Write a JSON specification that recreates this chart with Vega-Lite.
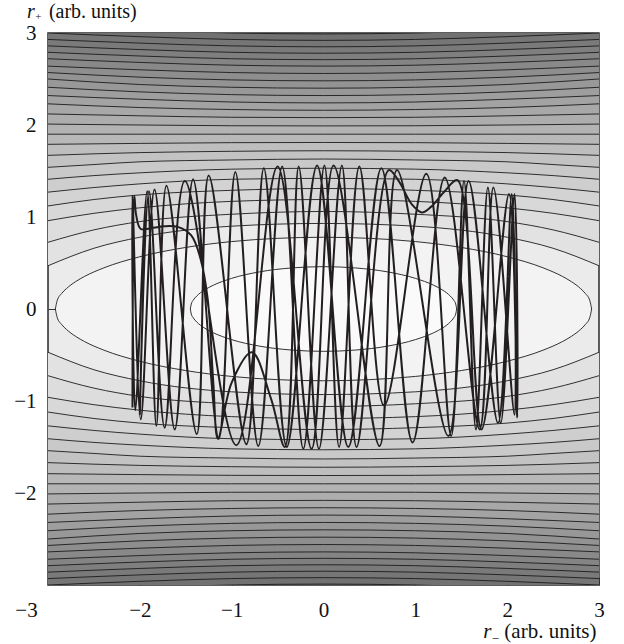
{
"$schema": "https://vega.github.io/schema/vega-lite/v6.json",
"width": 551, "height": 552,
"autosize": "none",
"padding": {"left": 48, "top": 33, "right": 25, "bottom": 59},
"config": {
  "view": {"fill": "#ebebeb", "stroke": "#2a2a2a", "strokeWidth": 1.5},
  "axis": {"labelFont": "Liberation Serif, Times New Roman, DejaVu Serif, serif", "labelFontSize": 21, "labelColor": "#111111", "grid": false, "domain": false, "tickColor": "#333333", "tickSize": -8, "tickWidth": 1, "labelOverlap": false, "labelFlush": false, "zindex": 1, "format": "d"},
  "text": {"font": "Liberation Serif, Times New Roman, DejaVu Serif, serif", "color": "#111111", "align": "left", "baseline": "alphabetic"}
},
"datasets": {
"c": [
{"k":3,"x":-3,"y":0.47},{"k":3,"x":-2.5,"y":0.66},{"k":3,"x":-2,"y":0.78},{"k":3,"x":-1,"y":0.9},{"k":3,"x":0,"y":0.93},{"k":3,"x":1,"y":0.9},{"k":3,"x":2,"y":0.78},{"k":3,"x":2.5,"y":0.66},{"k":3,"x":3,"y":0.47},
{"k":4,"x":-3,"y":0.725},{"k":4,"x":-2.5,"y":0.86},{"k":4,"x":-2,"y":0.95},{"k":4,"x":-1,"y":1.03},{"k":4,"x":0,"y":1.06},{"k":4,"x":1,"y":1.03},{"k":4,"x":2,"y":0.95},{"k":4,"x":2.5,"y":0.86},{"k":4,"x":3,"y":0.725},
{"k":5,"x":-3,"y":0.96},{"k":5,"x":-2.5,"y":1.04},{"k":5,"x":-2,"y":1.1},{"k":5,"x":-1,"y":1.17},{"k":5,"x":0,"y":1.19},{"k":5,"x":1,"y":1.17},{"k":5,"x":2,"y":1.1},{"k":5,"x":2.5,"y":1.04},{"k":5,"x":3,"y":0.96},
{"k":6,"x":-3,"y":1.12},{"k":6,"x":-2.5,"y":1.19},{"k":6,"x":-2,"y":1.24},{"k":6,"x":-1,"y":1.29},{"k":6,"x":0,"y":1.31},{"k":6,"x":1,"y":1.29},{"k":6,"x":2,"y":1.24},{"k":6,"x":2.5,"y":1.19},{"k":6,"x":3,"y":1.12},
{"k":7,"x":-3,"y":1.27},{"k":7,"x":-2.5,"y":1.32},{"k":7,"x":-2,"y":1.36},{"k":7,"x":-1,"y":1.41},{"k":7,"x":0,"y":1.42},{"k":7,"x":1,"y":1.41},{"k":7,"x":2,"y":1.36},{"k":7,"x":2.5,"y":1.32},{"k":7,"x":3,"y":1.27},
{"k":8,"x":-3,"y":1.41},{"k":8,"x":-2.5,"y":1.45},{"k":8,"x":-2,"y":1.48},{"k":8,"x":-1,"y":1.52},{"k":8,"x":0,"y":1.53},{"k":8,"x":1,"y":1.52},{"k":8,"x":2,"y":1.48},{"k":8,"x":2.5,"y":1.45},{"k":8,"x":3,"y":1.41},
{"k":9,"x":-3,"y":1.54},{"k":9,"x":-2.5,"y":1.57},{"k":9,"x":-2,"y":1.6},{"k":9,"x":-1,"y":1.62},{"k":9,"x":0,"y":1.63},{"k":9,"x":1,"y":1.62},{"k":9,"x":2,"y":1.6},{"k":9,"x":2.5,"y":1.57},{"k":9,"x":3,"y":1.54},
{"k":10,"x":-3,"y":1.67},{"k":10,"x":-2,"y":1.7},{"k":10,"x":-1,"y":1.714},{"k":10,"x":0,"y":1.72},{"k":10,"x":1,"y":1.714},{"k":10,"x":2,"y":1.7},{"k":10,"x":3,"y":1.67},
{"k":11,"x":-3,"y":1.79},{"k":11,"x":-2,"y":1.8},{"k":11,"x":-1,"y":1.808},{"k":11,"x":0,"y":1.81},{"k":11,"x":1,"y":1.808},{"k":11,"x":2,"y":1.8},{"k":11,"x":3,"y":1.79},
{"k":12,"x":-3,"y":1.9},{"k":12,"x":-2,"y":1.9},{"k":12,"x":-1,"y":1.9},{"k":12,"x":0,"y":1.9},{"k":12,"x":1,"y":1.9},{"k":12,"x":2,"y":1.9},{"k":12,"x":3,"y":1.9},
{"k":13,"x":-3,"y":2.01},{"k":13,"x":-2,"y":2.0},{"k":13,"x":-1,"y":1.992},{"k":13,"x":0,"y":1.99},{"k":13,"x":1,"y":1.992},{"k":13,"x":2,"y":2.0},{"k":13,"x":3,"y":2.01},
{"k":14,"x":-3,"y":2.12},{"k":14,"x":-2,"y":2.1},{"k":14,"x":-1,"y":2.084},{"k":14,"x":0,"y":2.08},{"k":14,"x":1,"y":2.084},{"k":14,"x":2,"y":2.1},{"k":14,"x":3,"y":2.12},
{"k":15,"x":-3,"y":2.23},{"k":15,"x":-2,"y":2.19},{"k":15,"x":-1,"y":2.168},{"k":15,"x":0,"y":2.16},{"k":15,"x":1,"y":2.168},{"k":15,"x":2,"y":2.19},{"k":15,"x":3,"y":2.23},
{"k":16,"x":-3,"y":2.32},{"k":16,"x":-2,"y":2.28},{"k":16,"x":-1,"y":2.25},{"k":16,"x":0,"y":2.24},{"k":16,"x":1,"y":2.25},{"k":16,"x":2,"y":2.28},{"k":16,"x":3,"y":2.32},
{"k":17,"x":-3,"y":2.41},{"k":17,"x":-2,"y":2.36},{"k":17,"x":-1,"y":2.33},{"k":17,"x":0,"y":2.32},{"k":17,"x":1,"y":2.33},{"k":17,"x":2,"y":2.36},{"k":17,"x":3,"y":2.41},
{"k":18,"x":-3,"y":2.5},{"k":18,"x":-2,"y":2.44},{"k":18,"x":-1,"y":2.41},{"k":18,"x":0,"y":2.4},{"k":18,"x":1,"y":2.41},{"k":18,"x":2,"y":2.44},{"k":18,"x":3,"y":2.5},
{"k":19,"x":-3,"y":2.57},{"k":19,"x":-2,"y":2.52},{"k":19,"x":-1,"y":2.49},{"k":19,"x":0,"y":2.48},{"k":19,"x":1,"y":2.49},{"k":19,"x":2,"y":2.52},{"k":19,"x":3,"y":2.57},
{"k":20,"x":-3,"y":2.64},{"k":20,"x":-2,"y":2.6},{"k":20,"x":-1,"y":2.57},{"k":20,"x":0,"y":2.56},{"k":20,"x":1,"y":2.57},{"k":20,"x":2,"y":2.6},{"k":20,"x":3,"y":2.64},
{"k":21,"x":-3,"y":2.72},{"k":21,"x":-2,"y":2.68},{"k":21,"x":-1,"y":2.65},{"k":21,"x":0,"y":2.64},{"k":21,"x":1,"y":2.65},{"k":21,"x":2,"y":2.68},{"k":21,"x":3,"y":2.72},
{"k":22,"x":-3,"y":2.79},{"k":22,"x":-2,"y":2.75},{"k":22,"x":-1,"y":2.72},{"k":22,"x":0,"y":2.71},{"k":22,"x":1,"y":2.72},{"k":22,"x":2,"y":2.75},{"k":22,"x":3,"y":2.79},
{"k":23,"x":-3,"y":2.86},{"k":23,"x":-2,"y":2.82},{"k":23,"x":-1,"y":2.79},{"k":23,"x":0,"y":2.78},{"k":23,"x":1,"y":2.79},{"k":23,"x":2,"y":2.82},{"k":23,"x":3,"y":2.86},
{"k":24,"x":-3,"y":2.93},{"k":24,"x":-2,"y":2.89},{"k":24,"x":-1,"y":2.86},{"k":24,"x":0,"y":2.85},{"k":24,"x":1,"y":2.86},{"k":24,"x":2,"y":2.89},{"k":24,"x":3,"y":2.93},
{"k":25,"x":-3,"y":3.0},{"k":25,"x":-2,"y":2.96},{"k":25,"x":-1,"y":2.93},{"k":25,"x":0,"y":2.92},{"k":25,"x":1,"y":2.93},{"k":25,"x":2,"y":2.96},{"k":25,"x":3,"y":3.0},
{"k":26,"x":-3,"y":3.07},{"k":26,"x":-2,"y":3.03},{"k":26,"x":-1,"y":3.0},{"k":26,"x":0,"y":2.99},{"k":26,"x":1,"y":3.0},{"k":26,"x":2,"y":3.03},{"k":26,"x":3,"y":3.07},
{"k":3,"x":-3,"y":-0.47},{"k":3,"x":-2.5,"y":-0.66},{"k":3,"x":-2,"y":-0.78},{"k":3,"x":-1,"y":-0.9},{"k":3,"x":0,"y":-0.93},{"k":3,"x":1,"y":-0.9},{"k":3,"x":2,"y":-0.78},{"k":3,"x":2.5,"y":-0.66},{"k":3,"x":3,"y":-0.47},
{"k":4,"x":-3,"y":-0.725},{"k":4,"x":-2.5,"y":-0.86},{"k":4,"x":-2,"y":-0.95},{"k":4,"x":-1,"y":-1.03},{"k":4,"x":0,"y":-1.06},{"k":4,"x":1,"y":-1.03},{"k":4,"x":2,"y":-0.95},{"k":4,"x":2.5,"y":-0.86},{"k":4,"x":3,"y":-0.725},
{"k":5,"x":-3,"y":-0.96},{"k":5,"x":-2.5,"y":-1.04},{"k":5,"x":-2,"y":-1.1},{"k":5,"x":-1,"y":-1.17},{"k":5,"x":0,"y":-1.19},{"k":5,"x":1,"y":-1.17},{"k":5,"x":2,"y":-1.1},{"k":5,"x":2.5,"y":-1.04},{"k":5,"x":3,"y":-0.96},
{"k":6,"x":-3,"y":-1.12},{"k":6,"x":-2.5,"y":-1.19},{"k":6,"x":-2,"y":-1.24},{"k":6,"x":-1,"y":-1.29},{"k":6,"x":0,"y":-1.31},{"k":6,"x":1,"y":-1.29},{"k":6,"x":2,"y":-1.24},{"k":6,"x":2.5,"y":-1.19},{"k":6,"x":3,"y":-1.12},
{"k":7,"x":-3,"y":-1.27},{"k":7,"x":-2.5,"y":-1.32},{"k":7,"x":-2,"y":-1.36},{"k":7,"x":-1,"y":-1.41},{"k":7,"x":0,"y":-1.42},{"k":7,"x":1,"y":-1.41},{"k":7,"x":2,"y":-1.36},{"k":7,"x":2.5,"y":-1.32},{"k":7,"x":3,"y":-1.27},
{"k":8,"x":-3,"y":-1.41},{"k":8,"x":-2.5,"y":-1.45},{"k":8,"x":-2,"y":-1.48},{"k":8,"x":-1,"y":-1.52},{"k":8,"x":0,"y":-1.53},{"k":8,"x":1,"y":-1.52},{"k":8,"x":2,"y":-1.48},{"k":8,"x":2.5,"y":-1.45},{"k":8,"x":3,"y":-1.41},
{"k":9,"x":-3,"y":-1.54},{"k":9,"x":-2.5,"y":-1.57},{"k":9,"x":-2,"y":-1.6},{"k":9,"x":-1,"y":-1.62},{"k":9,"x":0,"y":-1.63},{"k":9,"x":1,"y":-1.62},{"k":9,"x":2,"y":-1.6},{"k":9,"x":2.5,"y":-1.57},{"k":9,"x":3,"y":-1.54},
{"k":10,"x":-3,"y":-1.67},{"k":10,"x":-2,"y":-1.7},{"k":10,"x":-1,"y":-1.714},{"k":10,"x":0,"y":-1.72},{"k":10,"x":1,"y":-1.714},{"k":10,"x":2,"y":-1.7},{"k":10,"x":3,"y":-1.67},
{"k":11,"x":-3,"y":-1.79},{"k":11,"x":-2,"y":-1.8},{"k":11,"x":-1,"y":-1.808},{"k":11,"x":0,"y":-1.81},{"k":11,"x":1,"y":-1.808},{"k":11,"x":2,"y":-1.8},{"k":11,"x":3,"y":-1.79},
{"k":12,"x":-3,"y":-1.9},{"k":12,"x":-2,"y":-1.9},{"k":12,"x":-1,"y":-1.9},{"k":12,"x":0,"y":-1.9},{"k":12,"x":1,"y":-1.9},{"k":12,"x":2,"y":-1.9},{"k":12,"x":3,"y":-1.9},
{"k":13,"x":-3,"y":-2.01},{"k":13,"x":-2,"y":-2.0},{"k":13,"x":-1,"y":-1.992},{"k":13,"x":0,"y":-1.99},{"k":13,"x":1,"y":-1.992},{"k":13,"x":2,"y":-2.0},{"k":13,"x":3,"y":-2.01},
{"k":14,"x":-3,"y":-2.12},{"k":14,"x":-2,"y":-2.1},{"k":14,"x":-1,"y":-2.084},{"k":14,"x":0,"y":-2.08},{"k":14,"x":1,"y":-2.084},{"k":14,"x":2,"y":-2.1},{"k":14,"x":3,"y":-2.12},
{"k":15,"x":-3,"y":-2.23},{"k":15,"x":-2,"y":-2.19},{"k":15,"x":-1,"y":-2.168},{"k":15,"x":0,"y":-2.16},{"k":15,"x":1,"y":-2.168},{"k":15,"x":2,"y":-2.19},{"k":15,"x":3,"y":-2.23},
{"k":16,"x":-3,"y":-2.32},{"k":16,"x":-2,"y":-2.28},{"k":16,"x":-1,"y":-2.25},{"k":16,"x":0,"y":-2.24},{"k":16,"x":1,"y":-2.25},{"k":16,"x":2,"y":-2.28},{"k":16,"x":3,"y":-2.32},
{"k":17,"x":-3,"y":-2.41},{"k":17,"x":-2,"y":-2.36},{"k":17,"x":-1,"y":-2.33},{"k":17,"x":0,"y":-2.32},{"k":17,"x":1,"y":-2.33},{"k":17,"x":2,"y":-2.36},{"k":17,"x":3,"y":-2.41},
{"k":18,"x":-3,"y":-2.5},{"k":18,"x":-2,"y":-2.44},{"k":18,"x":-1,"y":-2.41},{"k":18,"x":0,"y":-2.4},{"k":18,"x":1,"y":-2.41},{"k":18,"x":2,"y":-2.44},{"k":18,"x":3,"y":-2.5},
{"k":19,"x":-3,"y":-2.57},{"k":19,"x":-2,"y":-2.52},{"k":19,"x":-1,"y":-2.49},{"k":19,"x":0,"y":-2.48},{"k":19,"x":1,"y":-2.49},{"k":19,"x":2,"y":-2.52},{"k":19,"x":3,"y":-2.57},
{"k":20,"x":-3,"y":-2.64},{"k":20,"x":-2,"y":-2.6},{"k":20,"x":-1,"y":-2.57},{"k":20,"x":0,"y":-2.56},{"k":20,"x":1,"y":-2.57},{"k":20,"x":2,"y":-2.6},{"k":20,"x":3,"y":-2.64},
{"k":21,"x":-3,"y":-2.72},{"k":21,"x":-2,"y":-2.68},{"k":21,"x":-1,"y":-2.65},{"k":21,"x":0,"y":-2.64},{"k":21,"x":1,"y":-2.65},{"k":21,"x":2,"y":-2.68},{"k":21,"x":3,"y":-2.72},
{"k":22,"x":-3,"y":-2.79},{"k":22,"x":-2,"y":-2.75},{"k":22,"x":-1,"y":-2.72},{"k":22,"x":0,"y":-2.71},{"k":22,"x":1,"y":-2.72},{"k":22,"x":2,"y":-2.75},{"k":22,"x":3,"y":-2.79},
{"k":23,"x":-3,"y":-2.86},{"k":23,"x":-2,"y":-2.82},{"k":23,"x":-1,"y":-2.79},{"k":23,"x":0,"y":-2.78},{"k":23,"x":1,"y":-2.79},{"k":23,"x":2,"y":-2.82},{"k":23,"x":3,"y":-2.86},
{"k":24,"x":-3,"y":-2.93},{"k":24,"x":-2,"y":-2.89},{"k":24,"x":-1,"y":-2.86},{"k":24,"x":0,"y":-2.85},{"k":24,"x":1,"y":-2.86},{"k":24,"x":2,"y":-2.89},{"k":24,"x":3,"y":-2.93},
{"k":25,"x":-3,"y":-3.0},{"k":25,"x":-2,"y":-2.96},{"k":25,"x":-1,"y":-2.93},{"k":25,"x":0,"y":-2.92},{"k":25,"x":1,"y":-2.93},{"k":25,"x":2,"y":-2.96},{"k":25,"x":3,"y":-3.0},
{"k":26,"x":-3,"y":-3.07},{"k":26,"x":-2,"y":-3.03},{"k":26,"x":-1,"y":-3.0},{"k":26,"x":0,"y":-2.99},{"k":26,"x":1,"y":-3.0},{"k":26,"x":2,"y":-3.03},{"k":26,"x":3,"y":-3.07}
],
"e": [
{"e":2,"x":-2.92,"yt":0,"yb":0},{"e":2,"x":-2.9,"yt":0.091,"yb":-0.091},{"e":2,"x":-2.85,"yt":0.17,"yb":-0.17},{"e":2,"x":-2.8,"yt":0.221,"yb":-0.221},{"e":2,"x":-2.7,"yt":0.297,"yb":-0.297},{"e":2,"x":-2.6,"yt":0.355,"yb":-0.355},{"e":2,"x":-2.4,"yt":0.444,"yb":-0.444},{"e":2,"x":-2,"yt":0.568,"yb":-0.568},{"e":2,"x":-1.5,"yt":0.669,"yb":-0.669},{"e":2,"x":-1,"yt":0.733,"yb":-0.733},{"e":2,"x":-0.5,"yt":0.768,"yb":-0.768},{"e":2,"x":0,"yt":0.78,"yb":-0.78},{"e":2,"x":0.5,"yt":0.768,"yb":-0.768},{"e":2,"x":1,"yt":0.733,"yb":-0.733},{"e":2,"x":1.5,"yt":0.669,"yb":-0.669},{"e":2,"x":2,"yt":0.568,"yb":-0.568},{"e":2,"x":2.4,"yt":0.444,"yb":-0.444},{"e":2,"x":2.6,"yt":0.355,"yb":-0.355},{"e":2,"x":2.7,"yt":0.297,"yb":-0.297},{"e":2,"x":2.8,"yt":0.221,"yb":-0.221},{"e":2,"x":2.85,"yt":0.17,"yb":-0.17},{"e":2,"x":2.9,"yt":0.091,"yb":-0.091},{"e":2,"x":2.92,"yt":0,"yb":0},
{"e":1,"x":-1.45,"yt":0,"yb":0},{"e":1,"x":-1.44,"yt":0.054,"yb":-0.054},{"e":1,"x":-1.42,"yt":0.093,"yb":-0.093},{"e":1,"x":-1.38,"yt":0.141,"yb":-0.141},{"e":1,"x":-1.3,"yt":0.204,"yb":-0.204},{"e":1,"x":-1.2,"yt":0.258,"yb":-0.258},{"e":1,"x":-1,"yt":0.333,"yb":-0.333},{"e":1,"x":-0.7,"yt":0.403,"yb":-0.403},{"e":1,"x":-0.35,"yt":0.446,"yb":-0.446},{"e":1,"x":0,"yt":0.46,"yb":-0.46},{"e":1,"x":0.35,"yt":0.446,"yb":-0.446},{"e":1,"x":0.7,"yt":0.403,"yb":-0.403},{"e":1,"x":1,"yt":0.333,"yb":-0.333},{"e":1,"x":1.2,"yt":0.258,"yb":-0.258},{"e":1,"x":1.3,"yt":0.204,"yb":-0.204},{"e":1,"x":1.38,"yt":0.141,"yb":-0.141},{"e":1,"x":1.42,"yt":0.093,"yb":-0.093},{"e":1,"x":1.44,"yt":0.054,"yb":-0.054},{"e":1,"x":1.45,"yt":0,"yb":0}
],
"t": [
{"t":1,"x":-2.08,"y":-1.07},{"t":2,"x":-2.06,"y":1.23},{"t":3,"x":-2.04,"y":1.02},{"t":4,"x":-1.99,"y":0.87},{"t":5,"x":-1.87,"y":0.88},{"t":6,"x":-1.73,"y":0.9},{"t":7,"x":-1.58,"y":0.89},{"t":8,"x":-1.44,"y":0.8},{"t":9,"x":-1.34,"y":0.55},{"t":10,"x":-1.26,"y":0.1},{"t":11,"x":-1.2,"y":-0.8},{"t":12,"x":-1.15,"y":-1.41},{"t":13,"x":-1.0,"y":-0.8},{"t":14,"x":-0.78,"y":-0.47},{"t":15,"x":-0.57,"y":-0.98},{"t":16,"x":-0.42,"y":-1.5},
{"t":17,"x":-0.27,"y":1.55},{"t":18,"x":-0.05,"y":-1.52},{"t":19,"x":0.2,"y":1.56},{"t":20,"x":0.36,"y":-1.5},{"t":21,"x":0.71,"y":1.51},{"t":22,"x":0.82,"y":1.39},{"t":23,"x":0.96,"y":1.14},{"t":24,"x":1.07,"y":1.05},{"t":25,"x":1.17,"y":1.11},{"t":26,"x":1.32,"y":1.28},{"t":27,"x":1.46,"y":1.4},{"t":28,"x":1.72,"y":-1.31},{"t":29,"x":2.02,"y":1.25},{"t":30,"x":2.11,"y":-1.18},
{"t":31,"x":2.08,"y":1.25},{"t":32,"x":1.93,"y":-1.24},{"t":33,"x":1.79,"y":1.32},{"t":34,"x":1.66,"y":-1.31},{"t":35,"x":1.53,"y":1.39},{"t":36,"x":1.39,"y":-1.38},{"t":37,"x":1.12,"y":1.47},{"t":38,"x":0.66,"y":-1.05},{"t":39,"x":0.39,"y":1.55},{"t":40,"x":0.17,"y":-1.5},{"t":41,"x":0.01,"y":1.56},{"t":42,"x":-0.22,"y":-1.52},{"t":43,"x":-0.45,"y":1.55},{"t":44,"x":-0.71,"y":-1.49},{"t":45,"x":-0.96,"y":1.49},{"t":46,"x":-1.14,"y":-1.41},{"t":47,"x":-1.42,"y":1.41},{"t":48,"x":-1.62,"y":-1.31},{"t":49,"x":-1.84,"y":1.3},{"t":50,"x":-1.99,"y":-1.2},{"t":51,"x":-2.08,"y":1.23},{"t":52,"x":-2.05,"y":-1.1},
{"t":53,"x":-1.92,"y":1.28},{"t":54,"x":-1.82,"y":-1.27},{"t":55,"x":-1.71,"y":1.34},{"t":56,"x":-1.38,"y":-1.36},{"t":57,"x":-1.25,"y":1.45},{"t":58,"x":-0.84,"y":-1.47},{"t":59,"x":-0.65,"y":1.53},{"t":60,"x":-0.4,"y":-1.5},{"t":61,"x":-0.07,"y":1.56},{"t":62,"x":0.27,"y":-1.5},{"t":63,"x":0.63,"y":1.53},{"t":64,"x":0.97,"y":-1.45},{"t":65,"x":1.32,"y":1.43},{"t":66,"x":1.7,"y":-1.31},{"t":67,"x":1.85,"y":1.32},{"t":68,"x":2.08,"y":-1.15},
{"t":69,"x":2.05,"y":1.25},{"t":70,"x":1.9,"y":-1.24},{"t":71,"x":1.58,"y":1.39},{"t":72,"x":1.36,"y":-1.38},{"t":73,"x":0.8,"y":1.51},{"t":74,"x":0.61,"y":-1.49},{"t":75,"x":0.11,"y":1.56},{"t":76,"x":-0.13,"y":-1.52},{"t":77,"x":-0.5,"y":1.55},{"t":78,"x":-0.95,"y":-1.48},{"t":79,"x":-1.51,"y":1.39},{"t":80,"x":-1.73,"y":-1.29},{"t":81,"x":-1.9,"y":1.28},{"t":82,"x":-2.0,"y":-1.15}
]
},
"layer": [
{"data": {"name": "c"}, "transform": [{"filter": "datum.y > 0"}],
 "mark": {"type": "area", "interpolate": "monotone", "clip": true},
 "encoding": {
   "x": {"field": "x", "type": "quantitative", "scale": {"domain": [-3, 3], "nice": false, "zero": false},
         "axis": {"values": [-3, -2, -1, 0, 1, 2, 3], "title": null, "labelPadding": 22, "labelOffset": {"condition": {"test": "datum.value === -3", "value": -22}, "value": 0}}},
   "y": {"field": "y", "type": "quantitative", "stack": null, "scale": {"domain": [-3, 3], "nice": false, "zero": false},
         "axis": {"values": [-2, -1, 0, 1, 2, 3], "title": null, "labelPadding": 20}},
   "y2": {"datum": 3},
   "fill": {"field": "k", "type": "quantitative", "scale": {"domain": [3, 8, 13, 26], "range": ["#e2e2e2", "#c9c9c9", "#adadad", "#6c6c6c"]}, "legend": null}
 }},
{"data": {"name": "c"}, "transform": [{"filter": "datum.y < 0"}],
 "mark": {"type": "area", "interpolate": "monotone", "clip": true},
 "encoding": {
   "x": {"field": "x", "type": "quantitative"},
   "y": {"field": "y", "type": "quantitative", "stack": null},
   "y2": {"datum": -3},
   "fill": {"field": "k", "type": "quantitative", "legend": null}
 }},
{"data": {"name": "e"}, "transform": [{"filter": "datum.e == 2"}],
 "mark": {"type": "area", "interpolate": "monotone", "fill": "#f3f3f3", "clip": true},
 "encoding": {"x": {"field": "x", "type": "quantitative"}, "y": {"field": "yt", "type": "quantitative", "stack": null}, "y2": {"field": "yb"}}},
{"data": {"name": "e"}, "transform": [{"filter": "datum.e == 1"}],
 "mark": {"type": "area", "interpolate": "monotone", "fill": "#fafafa", "clip": true},
 "encoding": {"x": {"field": "x", "type": "quantitative"}, "y": {"field": "yt", "type": "quantitative", "stack": null}, "y2": {"field": "yb"}}},
{"data": {"name": "c"}, "transform": [{"filter": "datum.y > 0"}],
 "mark": {"type": "line", "interpolate": "monotone", "stroke": "#1c1c1c", "strokeWidth": 0.9, "clip": true},
 "encoding": {"x": {"field": "x", "type": "quantitative"}, "y": {"field": "y", "type": "quantitative"}, "detail": {"field": "k"}}},
{"data": {"name": "c"}, "transform": [{"filter": "datum.y < 0"}],
 "mark": {"type": "line", "interpolate": "monotone", "stroke": "#1c1c1c", "strokeWidth": 0.9, "clip": true},
 "encoding": {"x": {"field": "x", "type": "quantitative"}, "y": {"field": "y", "type": "quantitative"}, "detail": {"field": "k"}}},
{"data": {"name": "e"},
 "mark": {"type": "line", "interpolate": "monotone", "stroke": "#1c1c1c", "strokeWidth": 0.9, "clip": true},
 "encoding": {"x": {"field": "x", "type": "quantitative"}, "y": {"field": "yt", "type": "quantitative"}, "detail": {"field": "e"}}},
{"data": {"name": "e"},
 "mark": {"type": "line", "interpolate": "monotone", "stroke": "#1c1c1c", "strokeWidth": 0.9, "clip": true},
 "encoding": {"x": {"field": "x", "type": "quantitative"}, "y": {"field": "yb", "type": "quantitative"}, "detail": {"field": "e"}}},
{"data": {"name": "t"},
 "mark": {"type": "line", "interpolate": "catmull-rom", "stroke": "#231f20", "strokeWidth": 2},
 "encoding": {"x": {"field": "x", "type": "quantitative"}, "y": {"field": "y", "type": "quantitative"}, "order": {"field": "t", "type": "quantitative"}}},
{"data": {"values": [{"s": "r"}]},
 "mark": {"type": "text", "fontStyle": "italic", "fontSize": 20},
 "encoding": {"x": {"datum": -3.229}, "y": {"datum": 3.165}, "text": {"field": "s"}}},
{"data": {"values": [{"s": "+"}]},
 "mark": {"type": "text", "fontSize": 11},
 "encoding": {"x": {"datum": -3.14}, "y": {"datum": 3.143}, "text": {"field": "s"}}},
{"data": {"values": [{"s": "(arb. units)"}]},
 "mark": {"type": "text", "fontSize": 20},
 "encoding": {"x": {"datum": -2.99}, "y": {"datum": 3.165}, "text": {"field": "s"}}},
{"data": {"values": [{"s": "r"}]},
 "mark": {"type": "text", "fontStyle": "italic", "fontSize": 21},
 "encoding": {"x": {"datum": 1.74}, "y": {"datum": -3.58}, "text": {"field": "s"}}},
{"data": {"values": [{"s": "\u2212"}]},
 "mark": {"type": "text", "fontSize": 13},
 "encoding": {"x": {"datum": 1.831}, "y": {"datum": -3.625}, "text": {"field": "s"}}},
{"data": {"values": [{"s": "(arb. units)"}]},
 "mark": {"type": "text", "fontSize": 21},
 "encoding": {"x": {"datum": 1.969}, "y": {"datum": -3.58}, "text": {"field": "s"}}}
]
}
